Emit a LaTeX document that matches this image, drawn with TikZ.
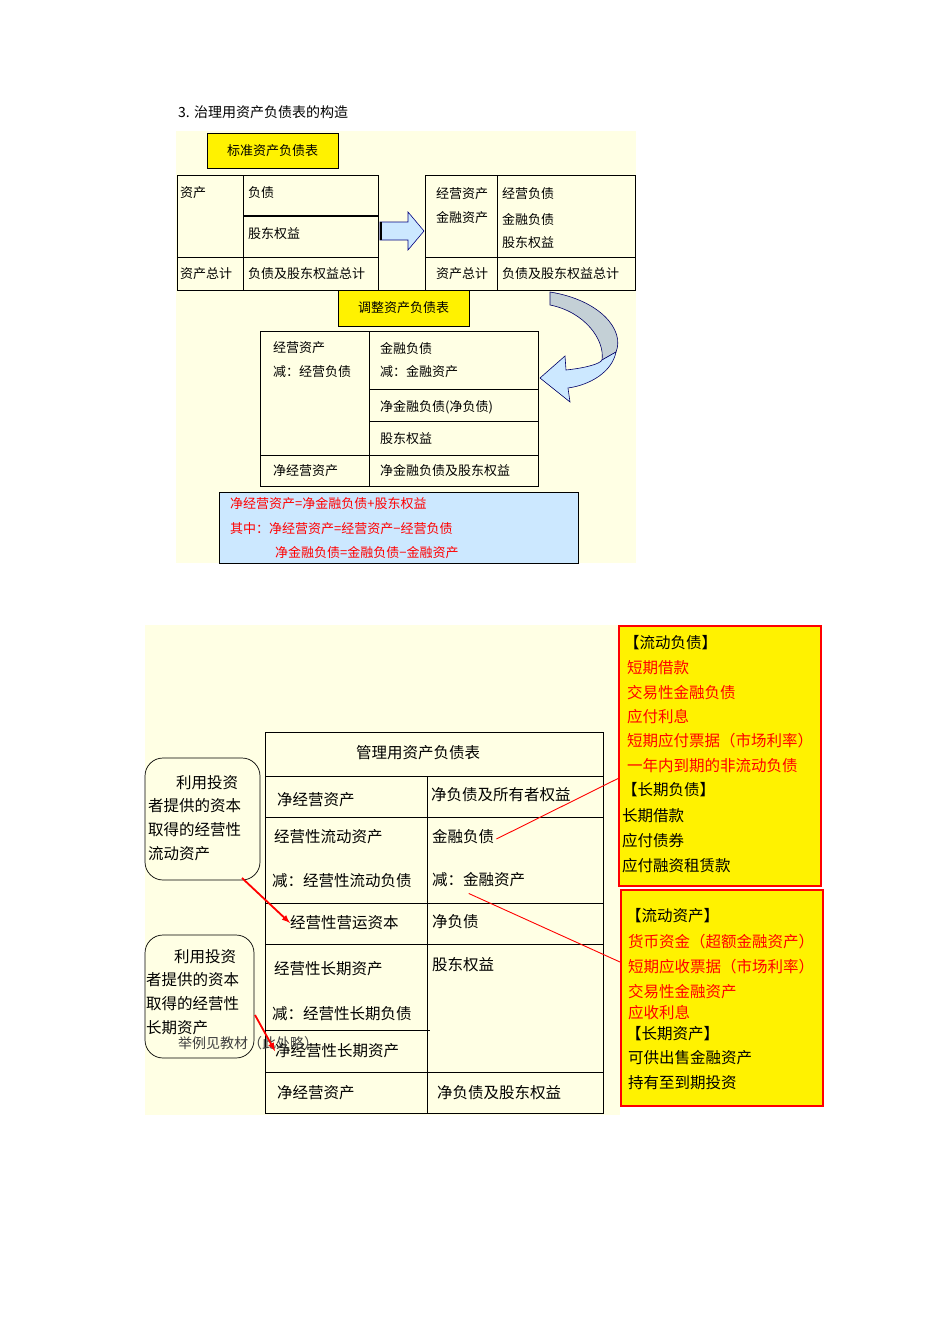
\documentclass[tikz,border=0pt]{standalone}
\usepackage{fontspec}
\setmainfont{Noto Sans CJK SC}
\definecolor{lblue}{RGB}{204,232,255}
\definecolor{pale}{RGB}{255,255,228}
\begin{document}
\begin{tikzpicture}[x=1pt,y=-1pt,
 t/.style={anchor=west,inner sep=0pt,font=\fontsize{13}{13}\selectfont},
 tb/.style={anchor=west,inner sep=0pt,font=\fontsize{15.5}{15.5}\selectfont},
 rt/.style={tb,text=red},
 ln/.style={draw=black,line width=0.9pt},
 ybox/.style={draw=black,fill=yellow,line width=1pt,inner sep=0pt}]
\useasboundingbox (0,0) rectangle (950,1344);
\fill[white] (0,0) rectangle (950,1344);
\node[anchor=west,inner sep=0pt,font=\fontsize{14}{14}\selectfont] (title) at (178,112) {3. 治理用资产负债表的构造};
% top background
\fill[pale] (176,131) rectangle (636,563);
\node[ybox,minimum width=131,minimum height=35] (std) at (272.5,150.5) {\fontsize{13}{13}\selectfont 标准资产负债表};
% left table
\draw[ln] (177,175) rectangle (378,290);
\draw[ln] (243,175) -- (243,290);
\draw[line width=1.6pt] (243,216) -- (378,216);
\draw[ln] (177,257) -- (378,257);
\node[t] (a1) at (180,193) {资产};
\node[t] (a2) at (248,193) {负债};
\node[t] (a3) at (248,234) {股东权益};
\node[t] (a4) at (180,274) {资产总计};
\node[t] (a5) at (248,274) {负债及股东权益总计};
% block arrow
\draw[fill=lblue,draw=blue!50!black,line width=0.6pt] (380,222) -- (408,222) -- (408,212) -- (424,231) -- (408,250) -- (408,240) -- (380,240) -- cycle;
\draw[line width=1.5pt] (381,222) -- (381,240);
% right table
\draw[ln] (425,175) rectangle (635,290);
\draw[ln] (497,175) -- (497,290);
\draw[ln] (425,257) -- (635,257);
\node[t] (b1) at (436,194) {经营资产};
\node[t] (b2) at (436,218) {金融资产};
\node[t] (b3) at (502,194) {经营负债};
\node[t] (b4) at (502,219) {金融负债};
\node[t] (b5) at (502,243) {股东权益};
\node[t] (b6) at (436,274) {资产总计};
\node[t] (b7) at (502,274) {负债及股东权益总计};
\node[ybox,minimum width=131,minimum height=36] (adj) at (403.5,308) {\fontsize{13}{13}\selectfont 调整资产负债表};
% curved arrow
\draw[fill=cyan!20!gray!45,draw=blue!40!black,line width=0.6pt] (550,292) .. controls (600,300) and (625,330) .. (616,352) -- (602,360) .. controls (605,340) and (585,312) .. (550,305) -- cycle;
\draw[fill=lblue,draw=blue!40!black,line width=0.6pt] (616,352) .. controls (612,372) and (590,385) .. (568,388) -- (570,402) -- (540,378) -- (565,356) -- (566,370) .. controls (585,368) and (600,364) .. (602,360) -- cycle;
% middle table
\draw[ln] (260,331) rectangle (538,486);
\draw[ln] (369,331) -- (369,486);
\draw[ln] (369,389) -- (538,389);
\draw[ln] (369,421) -- (538,421);
\draw[ln] (260,455) -- (538,455);
\node[t] (c1) at (273,348) {经营资产};
\node[t] (c2) at (273,372) {减：经营负债};
\node[t] (c3) at (380,348) {金融负债};
\node[t] (c4) at (380,372) {减：金融资产};
\node[t] (c5) at (380,407) {净金融负债(净负债)};
\node[t] (c6) at (380,439) {股东权益};
\node[t] (c7) at (273,471) {净经营资产};
\node[t] (c8) at (380,471) {净金融负债及股东权益};
\draw[fill=lblue,draw=black,line width=1pt] (219,492) rectangle (578,563);
\node[t,text=red] (f1) at (230,504) {净经营资产=净金融负债+股东权益};
\node[t,text=red] (f2) at (230,529) {其中：净经营资产=经营资产−经营负债};
\node[t,text=red] (f3) at (275,553) {净金融负债=金融负债−金融资产};
% bottom
\fill[pale] (145,625) rectangle (620,1115);
\draw[ln] (265,732) rectangle (603,1113);
\draw[ln] (427,776) -- (427,1113);
\foreach \yy in {776,817,903,944,1072} \draw[ln] (265,\yy) -- (603,\yy);
\draw[ln] (265,1030) -- (430,1030);
\node[tb] (m0) at (356,753) {管理用资产负债表};
\node[tb] (m1) at (277,800) {净经营资产};
\node[tb] (m2) at (431,795) {净负债及所有者权益};
\node[tb] (m3) at (274,837) {经营性流动资产};
\node[tb] (m4) at (432,837) {金融负债};
\node[tb] (m5) at (272,881) {减：经营性流动负债};
\node[tb] (m6) at (432,880) {减：金融资产};
\node[tb] (m7) at (290,923) {经营性营运资本};
\node[tb] (m8) at (432,922) {净负债};
\node[tb] (m9) at (274,969) {经营性长期资产};
\node[tb] (m10) at (432,965) {股东权益};
\node[tb] (m11) at (272,1014) {减：经营性长期负债};
\node[tb] (m12) at (275,1051) {净经营性长期资产};
\node[tb] (m13) at (277,1093) {净经营资产};
\node[tb] (m14) at (437,1093) {净负债及股东权益};
% rounded boxes
\draw[rounded corners=18pt,line width=0.7pt] (145,758) rectangle (260,880);
\node[anchor=north west,inner sep=0pt,align=left,font=\fontsize{15.5}{23.7}\selectfont] (r1) at (148,775) {\hspace*{28pt}利用投资\\者提供的资本\\取得的经营性\\流动资产};
\draw[rounded corners=18pt,line width=0.7pt] (145,935) rectangle (254,1058);
\node[anchor=north west,inner sep=0pt,align=left,font=\fontsize{15.5}{23.7}\selectfont] (r2) at (146,949) {\hspace*{28pt}利用投资\\者提供的资本\\取得的经营性\\长期资产};
\node[anchor=west,inner sep=0pt,text=black!75,font=\rmfamily\fontsize{14}{14}\selectfont] (note) at (178,1043) {举例见教材（此处略）};
\coordinate (s1) at (242,878);
\coordinate (s2) at (255,1015);
\draw[red,line width=1.8pt,-latex] (s1) -- (m7.west);
\draw[red,line width=1.8pt,-latex] (s2) -- (m12.west);
% right boxes
\draw[red,fill=yellow,line width=1.2pt] (619,626) rectangle (821,886);
\draw[red,fill=yellow,line width=1.2pt] (621,890) rectangle (823,1106);
\node[tb] (p1) at (624,643) {【流动负债】};
\node[rt] (p2) at (627,668) {短期借款};
\node[rt] (p3) at (627,693) {交易性金融负债};
\node[rt] (p4) at (627,717) {应付利息};
\node[rt] (p5) at (627,741) {短期应付票据（市场利率）};
\node[rt] (p6) at (627,766) {一年内到期的非流动负债};
\node[tb] (p7) at (622,790) {【长期负债】};
\node[tb] (p8) at (622,816) {长期借款};
\node[tb] (p9) at (622,841) {应付债券};
\node[tb] (p10) at (622,866) {应付融资租赁款};
\node[tb] (q1) at (626,916) {【流动资产】};
\node[rt] (q2) at (628,942) {货币资金（超额金融资产）};
\node[rt] (q3) at (628,967) {短期应收票据（市场利率）};
\node[rt] (q4) at (628,992) {交易性金融资产};
\node[rt] (q5) at (628,1013) {应收利息};
\node[tb] (q6) at (626,1034) {【长期资产】};
\node[tb] (q7) at (628,1058) {可供出售金融资产};
\node[tb] (q8) at (628,1083) {持有至到期投资};
\coordinate (e1) at (619,778);
\coordinate (e2) at (620,962);
\draw[red,line width=0.9pt] (m4.east) ++(2,2) -- (e1);
\draw[red,line width=0.9pt] (m6.south) ++(-10,6) -- (e2);
\end{tikzpicture}
\end{document}
